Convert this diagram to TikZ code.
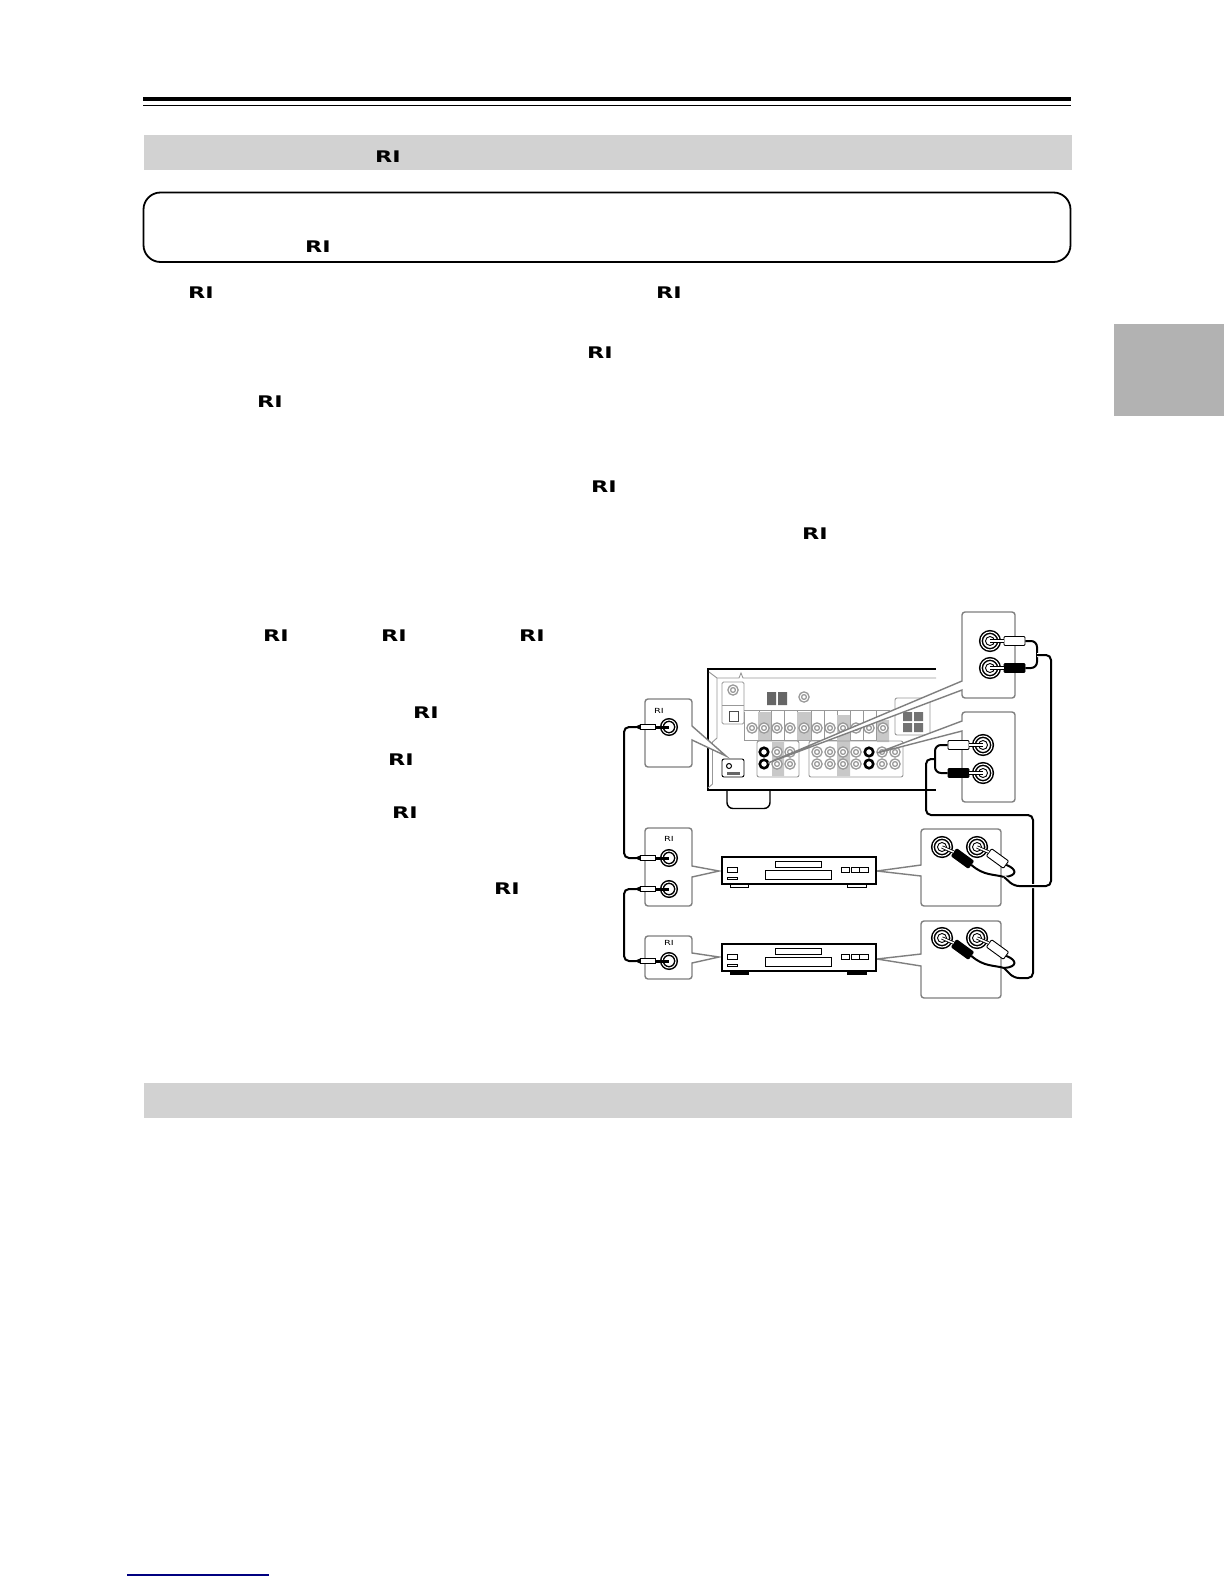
\documentclass[tikz,border=0pt]{standalone}
\usepackage{xcolor}
\usepackage{fontspec}
\setmainfont{DejaVu Sans}
\usepackage{tikz}
\usetikzlibrary{positioning}
\definecolor{BarGrey}{HTML}{D2D2D2}
\definecolor{TabGrey}{HTML}{B2B2B2}
\definecolor{PanelGrey}{HTML}{7F7F7F}
\definecolor{FaintGrey}{HTML}{989898}
\definecolor{ShadeGrey}{HTML}{C8C8C8}
\definecolor{LinkBlue}{HTML}{000080}
\newcommand{\rilogo}{\scalebox{1.4}[1]{\fontsize{16}{16}\selectfont\bfseries RI}}
\newcommand{\rismall}{\scalebox{1.4}[1]{\fontsize{7}{7}\selectfont RI}}
\tikzset{
  graybar/.style={fill=BarGrey, minimum width=928pt, minimum height=35pt, inner sep=0pt, outer sep=0pt},
  logo/.style={inner sep=0pt, text=black},
  callout/.style={draw=PanelGrey, line width=1.4pt, fill=white},
  wire/.style={draw=black, line width=2pt, rounded corners=5pt},
  halo/.style={preaction={draw=white, line width=4pt}},
  jackring/.style={circle, draw=black, double=white, double distance=1.1pt, line width=1.5pt, minimum size=18pt, inner sep=0pt, fill=white},
  jackhole/.style={circle, draw=black, line width=.9pt, minimum size=9pt, inner sep=0pt, fill=white},
  minijack/.style={circle, draw=black, double=white, double distance=1pt, line width=1.5pt, minimum size=14pt, inner sep=0pt, fill=white},
  miniplug/.style={draw=black, line width=.8pt, fill=white, minimum width=15pt, minimum height=5pt, inner sep=0pt},
  minitip/.style={draw=black, line width=3pt},
  rcaplug/.style={draw=black, line width=.9pt, fill=white, rounded corners=1pt, minimum width=21pt, minimum height=9pt, inner sep=0pt},
  rcablack/.style={rcaplug, fill=black},
  rcapin/.style={draw=black, line width=.8pt, double=white, double distance=1.6pt},
  greyjack/.style={circle, draw=FaintGrey, line width=1.4pt, double=white, double distance=1pt, minimum size=7.5pt, inner sep=0pt, fill=white},
  blackjack/.style={circle, draw=black, line width=2.6pt, minimum size=8.5pt, inner sep=0pt, fill=white},
  playerbody/.style={draw=black, line width=2pt, fill=white, minimum width=154pt, minimum height=27pt, inner sep=0pt},
  thinpart/.style={draw=black, line width=1pt, fill=white},
  faint/.style={draw=FaintGrey, line width=.9pt}
}
\newcommand{\rcajack}[2]{\node (#1) [jackring] at (#2) {}; \node (#1hole) [jackhole] at (#1) {};}
\begin{document}
\begin{tikzpicture}[x=1pt, y=-1pt]
  \useasboundingbox (0,0) rectangle (1224,1584);
  \fill[white] (0,0) rectangle (1224,1584);
  % page furniture
  \draw[line width=4pt] (143,99) -- (1071,99);
  \draw[line width=1.2pt] (143,105.5) -- (1071,105.5);
  \node (barone) [graybar, anchor=north west] at (144,135) {};
  \node (bartwo) [graybar, anchor=north west] at (144,1083) {};
  \draw[line width=1.8pt, rounded corners=17pt] (143.5,192.5) rectangle (1070.5,262);
  \fill[TabGrey] (1114,324) rectangle (1224,416);
  \draw[LinkBlue, line width=1.4pt] (127,1575) -- (269,1575);
  % logos in the running text
  \foreach \lx/\ly/\nm in {388/156.5/a, 318/247/b, 201/292.5/c, 669/292.5/d, 600/352.5/e, 270/401.5/f, 604/486.5/g, 815/533.5/h, 276/636/i, 394/636/j, 532/636/k, 426/712.5/l, 401/759.5/m, 405/812.5/n, 507/888.5/o}
    \node (ri\nm) [logo] at (\lx,\ly) {\rilogo};

  % receiver
  \draw[line width=2pt] (936,669) -- (708,669) -- (708,790) -- (936,790);
  \draw[line width=1.4pt, rounded corners=6pt] (727,790) -- (727,808.5) -- (770,808.5) -- (770,790);
  \draw[faint] (709,672) -- (717,678) -- (739,678) -- (741,673) -- (743,678) -- (936,678);
  \draw[faint] (717,678) -- (717,738) -- (712.5,742) -- (712.5,784) -- (708,788);
  \draw[faint, rounded corners=1.5pt] (722,682) rectangle (744,724);
  \draw[faint] (722,705) -- (744,705);
  \draw[draw=black!70, line width=.7pt] (729,711.5) rectangle (738,721);
  \node (hdmijack) [greyjack] at (733,690) {};
  \fill[black!60] (767,692) rectangle (776,705) (778,692) rectangle (787,705);
  \node (antjack) [greyjack] at (804,697) {};
  \draw[faint] (744,712) -- (744,740) -- (880,740);
  \draw[faint] (744,710) -- (890,710);
  \foreach \gx in {759,771,784,797,811,824,837,850,863,876}
    \draw[faint] (\gx,710) -- (\gx,740);
  \fill[ShadeGrey] (758,712) rectangle (771,740) (797,712) rectangle (811,740) (837,715) rectangle (850,776) (877,720) rectangle (889,742) (772,742) rectangle (784,776);
  \foreach \jx in {752,764,777,790,804,817,830,843,856,869,883}
    \node (up\jx) [greyjack] at (\jx,728) {};
  \draw[faint, rounded corners=2pt] (757,741) rectangle (799,777);
  \draw[faint, rounded corners=2pt] (809,741) rectangle (903,777);
  \foreach \jx in {777,790,817,830,843,856,882,895} {
    \node (lowa\jx) [greyjack] at (\jx,752) {};
    \node (lowb\jx) [greyjack] at (\jx,764) {};
  }
  \foreach \jx/\jy in {764/752, 764/764, 869/752, 869/764}
    \node (blk\jx\jy) [blackjack] at (\jx,\jy) {};
  \draw[faint, rounded corners=2pt] (895,698) rectangle (930,735);
  \fill[black!55] (903,712) rectangle (912,721) (914,712) rectangle (923,721) (903,723) rectangle (912,732) (914,723) rectangle (923,732);
  \draw[line width=.9pt, rounded corners=2pt] (722,759) rectangle (744,777);
  \node (rcjack) [circle, draw=black, line width=1pt, minimum size=5pt, inner sep=0pt] at (729,766) {};
  \fill[black!60] (727,771.5) rectangle (740,774.5);

  % callouts to the left column
  \draw[callout] (726,756) -- (692,740) [rounded corners=3pt] -- (692,767) -- (645,767) -- (645,699) -- (692,699) [sharp corners] -- (692,726) -- cycle;
  \draw[callout] (719,871) -- (692,877) [rounded corners=3pt] -- (692,906) -- (645,906) -- (645,828) -- (692,828) [sharp corners] -- (692,866) -- cycle;
  \draw[callout] (719,957) -- (692,963) [rounded corners=3pt] -- (692,979) -- (645,979) -- (645,936) -- (692,936) [sharp corners] -- (692,953) -- cycle;
  % callouts to the right column
  \draw[callout] (768,763) -- (962,681) [rounded corners=3pt] -- (962,612) -- (1015,612) -- (1015,698) -- (962,698) [sharp corners] -- (962,690) -- cycle;
  \draw[callout] (877,753) -- (962,721) [rounded corners=3pt] -- (962,712) -- (1015,712) -- (1015,802) -- (962,802) [sharp corners] -- (962,731) -- cycle;
  \draw[callout] (877,871) -- (921,865) [rounded corners=3pt] -- (921,829) -- (1001,829) -- (1001,906) -- (921,906) [sharp corners] -- (921,876) -- cycle;
  \draw[callout] (877,959) -- (921,954) [rounded corners=3pt] -- (921,921) -- (1001,921) -- (1001,998) -- (921,998) [sharp corners] -- (921,966) -- cycle;

  % players
  \foreach \yy/\nm/\ft in {0/one/white, 87/two/black} {
    \draw[fill=\ft, line width=1pt] (730,882+\yy) rectangle (748,887+\yy) (847,882+\yy) rectangle (866,887+\yy);
    \node (player\nm) [playerbody] at (799,870.5+\yy) {};
    \draw[thinpart] (775,861.5+\yy) rectangle (821,867+\yy);
    \draw[thinpart] (765,870+\yy) rectangle (831,879.5+\yy);
    \draw[thinpart] (727,867+\yy) rectangle (737,872+\yy);
    \draw[thinpart] (727,877+\yy) rectangle (737,879.5+\yy);
    \draw[thinpart] (841,867+\yy) rectangle (849,872+\yy);
    \draw[thinpart] (851,867+\yy) rectangle (868,872+\yy);
    \draw[thinpart] (859,867+\yy) -- (859,872+\yy);
  }

  % remote control links
  \node (tagA) [logo] at (659,711) {\rismall};
  \node (tagB) [logo] at (669,839) {\rismall};
  \node (tagC) [logo] at (669,943) {\rismall};
  \foreach \jk/\jx/\jy in {jackA/669/727, jackB/669/858, jackC/669/889, jackD/669/961} {
    \node (\jk) [minijack] at (\jx,\jy) {};
    \node (plug\jk) [miniplug, left=13pt of \jk.center] {};
    \draw[minitip] (plug\jk.east) -- (\jk.center);
    \fill (plug\jk.west) ++(-6,0) -- ++(6,-2.5) -- ++(0,5) -- cycle;
  }
  \draw[wire] (plugjackA.west) ++(-4,0) -- (624,727) -- (624,858) -- ([xshift=-4pt]plugjackB.west);
  \draw[wire] (plugjackC.west) ++(-4,0) -- (624,889) -- (624,961) -- ([xshift=-4pt]plugjackD.west);

  % audio links
  \rcajack{rcaTa}{990,641}
  \rcajack{rcaTb}{990,668}
  \rcajack{rcaMa}{983,745}
  \rcajack{rcaMb}{983,773}
  \rcajack{rcaDa}{942,847}
  \rcajack{rcaDb}{977,847}
  \rcajack{rcaEa}{942,938}
  \rcajack{rcaEb}{977,938}
  \node (plugTa) [rcaplug] at (1014.5,641) {};
  \node (plugTb) [rcablack] at (1014.5,668) {};
  \node (plugMa) [rcaplug] at (958.5,745) {};
  \node (plugMb) [rcablack] at (958.5,773) {};
  \node (plugDa) [rcablack, rotate=-36] at (962.5,858.5) {};
  \node (plugDb) [rcaplug, rotate=-36] at (997.5,858.5) {};
  \node (plugEa) [rcablack, rotate=-36] at (962.5,949.5) {};
  \node (plugEb) [rcaplug, rotate=-36] at (997.5,949.5) {};
  \draw[rcapin] (rcaTa.center) -- (plugTa.west);
  \draw[rcapin] (rcaTb.center) -- (plugTb.west);
  \draw[rcapin] (rcaMa.center) -- (plugMa.east);
  \draw[rcapin] (rcaMb.center) -- (plugMb.east);
  \draw[rcapin] (rcaDa.center) -- (plugDa.west);
  \draw[rcapin] (rcaDb.center) -- (plugDb.west);
  \draw[rcapin] (rcaEa.center) -- (plugEa.west);
  \draw[rcapin] (rcaEb.center) -- (plugEb.west);
  \coordinate (joinT) at (1037,655);
  \coordinate (joinM) at (935,759);
  \coordinate (joinD) at (1004,877);
  \coordinate (joinE) at (1004,968);
  \draw[wire, rounded corners=6pt] (plugTa.east) -- (1037,641) -- (1037,668) -- (plugTb.east);
  \draw[wire, rounded corners=6pt] (plugMa.west) -- (935,745) -- (935,773) -- (plugMb.west);
  \draw[wire] (plugDa.east) .. controls (984,876) and (994,874) .. (joinD);
  \draw[wire] (plugDb.east) .. controls (1017,869) and (1018,876) .. (joinD);
  \draw[wire] (plugEa.east) .. controls (984,967) and (994,965) .. (joinE);
  \draw[wire] (plugEb.east) .. controls (1017,960) and (1018,967) .. (joinE);
  \draw[wire] (joinE) -- (1014,978) -- (1033,978) -- (1033,815) -- (926,815) -- (926,759) -- (joinM);
  \draw[wire, halo] (joinD) -- (1014,886) -- (1051,886) -- (1051,655) -- (joinT);
\end{tikzpicture}
\end{document}
